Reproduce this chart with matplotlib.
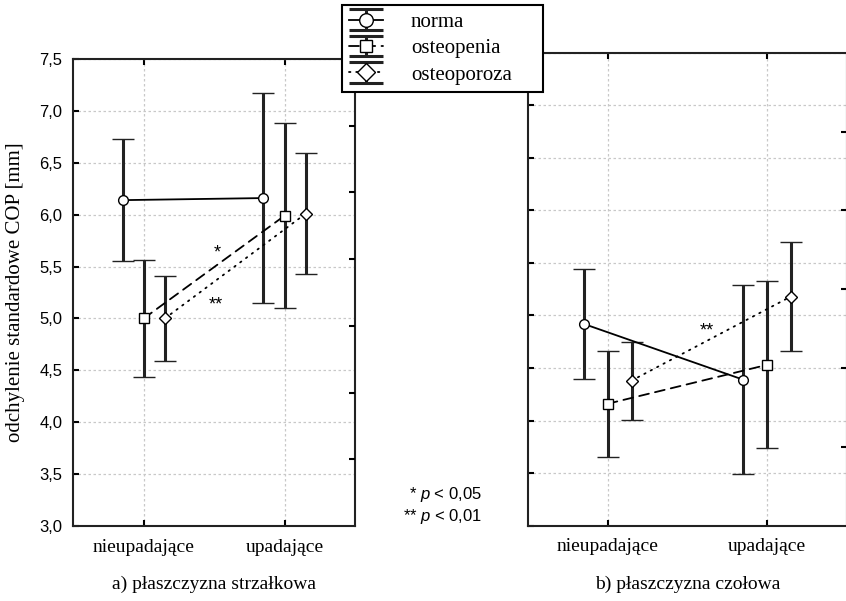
import numpy as np
import matplotlib.pyplot as plt
from matplotlib.container import ErrorbarContainer
from matplotlib.legend_handler import HandlerErrorbar
from matplotlib.lines import Line2D

plt.rcParams['mathtext.fontset'] = 'custom'
plt.rcParams['mathtext.rm'] = 'Liberation Sans'
plt.rcParams['mathtext.it'] = 'Liberation Sans:italic'

groups = ['nieupadające', 'upadające']
series = ['norma', 'osteopenia', 'osteoporoza']

# a) płaszczyzna strzałkowa: mean and half-width of the interval
sag_norma = [6.14, 6.16]
sag_norma_err = [0.59, 1.01]
sag_penia = [5.00, 5.99]
sag_penia_err = [0.565, 0.89]
sag_poroza = [5.00, 6.01]
sag_poroza_err = [0.41, 0.58]

# b) płaszczyzna czołowa
front_norma = [4.92, 4.39]
front_norma_err = [0.52, 0.90]
front_penia = [4.16, 4.53]
front_penia_err = [0.505, 0.795]
front_poroza = [4.38, 5.18]
front_poroza_err = [0.37, 0.52]

yticks = np.arange(3.0, 7.51, 0.5)

styles = [
    dict(marker='o', ms=7, dashes=None),
    dict(marker='s', ms=6.5, dashes=(5.5, 3.5)),
    dict(marker='D', ms=6.5, dashes=(0.8, 3.2)),
]
offsets = [-0.15, 0.0, 0.15]
serif = 'Liberation Serif'
sans = 'Liberation Sans'


class WideCapHandler(HandlerErrorbar):
    # caps in the legend span the whole handle
    def create_artists(self, *args, **kwargs):
        arts = super().create_artists(*args, **kwargs)
        for a in arts:
            if isinstance(a, Line2D) and a.get_marker() == '_':
                a.set_markersize(24)
                a.set_markeredgewidth(2.2)
        return arts


def draw_panel(ax, means, errs):
    x = np.arange(len(groups))
    handles = []
    for i, (m, e) in enumerate(zip(means, errs)):
        st = styles[i]
        h = ax.errorbar(x + offsets[i], m, yerr=e, color='black', lw=1.3,
                        marker=st['marker'], ms=st['ms'], mfc='white',
                        mec='black', mew=1.0, ecolor='#222222',
                        elinewidth=2.2, capsize=8, capthick=2.2)
        if st['dashes'] is not None:
            h[0].set_dashes(st['dashes'])
            h[0].set_dash_capstyle('round')
        handles.append(h)
    ax.set_xlim(-0.5, 1.5)
    ax.set_ylim(3.0, 7.5)
    ax.set_xticks(x)
    ax.set_yticks(yticks)
    ax.grid(True, color='#c8c8c8', ls=(0, (2, 2)), lw=0.9)
    ax.tick_params(direction='in', length=4, width=1.5, top=True)
    ax.tick_params(axis='y', labelsize=12, pad=8)
    ax.tick_params(axis='x', pad=9)
    ax.set_xticklabels(groups, fontfamily=serif, fontsize=14)
    for sp in ax.spines.values():
        sp.set_linewidth(1.5)
        sp.set_color('#222222')
    return handles


fig = plt.figure(figsize=(8.46, 6.01), dpi=100)
ax1 = fig.add_axes([73.3 / 846, 1 - 526 / 601, (355 - 73.3) / 846, (526 - 59) / 601])
ax2 = fig.add_axes([528 / 846, 1 - 525.7 / 601, (846.5 - 528) / 846, (525.7 - 52.7) / 601])

hs = draw_panel(ax1, [sag_norma, sag_penia, sag_poroza],
                [sag_norma_err, sag_penia_err, sag_poroza_err])
draw_panel(ax2, [front_norma, front_penia, front_poroza],
           [front_norma_err, front_penia_err, front_poroza_err])

ax1.set_yticklabels([f'{v:.1f}'.replace('.', ',') for v in yticks],
                    fontfamily=sans)
ax2.tick_params(labelleft=False)
ax1.set_ylabel('odchylenie standardowe COP [mm]', fontfamily=serif, fontsize=15)
ax1.yaxis.set_label_coords(-0.17, 0.5)

# extra right-hand scales (ticks only)
for ax, top in ((ax1, 7), (ax2, 6)):
    tw = ax.twinx()
    tw.set_ylim(0, top)
    tw.set_yticks(np.arange(1, top))
    tw.tick_params(direction='in', length=4, width=1.5, labelright=False)
    for sp in tw.spines.values():
        sp.set_visible(False)

# significance marks
ax1.text(0.52, 5.63, '*', ha='center', va='center', fontsize=13, fontfamily=sans)
ax1.text(0.51, 5.13, '**', ha='center', va='center', fontsize=13, fontfamily=sans)
ax2.text(0.62, 4.85, '**', ha='center', va='center', fontsize=13, fontfamily=sans)

fig.text(482 / 846, 1 - 495 / 601, r'* $p$ < 0,05', ha='right', va='center',
         fontsize=12, fontfamily=sans)
fig.text(482 / 846, 1 - 516 / 601, r'** $p$ < 0,01', ha='right', va='center',
         fontsize=12, fontfamily=sans)

ax1.text(0.5, -0.125, 'a) płaszczyzna strzałkowa', transform=ax1.transAxes,
         ha='center', va='center', fontfamily=serif, fontsize=14)
ax2.text(0.5, -0.125, 'b) płaszczyzna czołowa', transform=ax2.transAxes,
         ha='center', va='center', fontfamily=serif, fontsize=14)

leg = fig.legend(hs, series, loc='upper left', mode='expand',
                 bbox_to_anchor=(342 / 846, 1 - 91 / 601, 201 / 846, 86 / 601),
                 borderaxespad=0, markerscale=1.4,
                 prop={'family': serif, 'size': 15}, fancybox=False,
                 framealpha=1, edgecolor='black', handlelength=1.6,
                 labelspacing=0.33, borderpad=0.35, handletextpad=1.35,
                 handler_map={ErrorbarContainer: WideCapHandler(yerr_size=0.5)})
leg.get_frame().set_linewidth(1.5)

fig.savefig('out.png', dpi=100)
